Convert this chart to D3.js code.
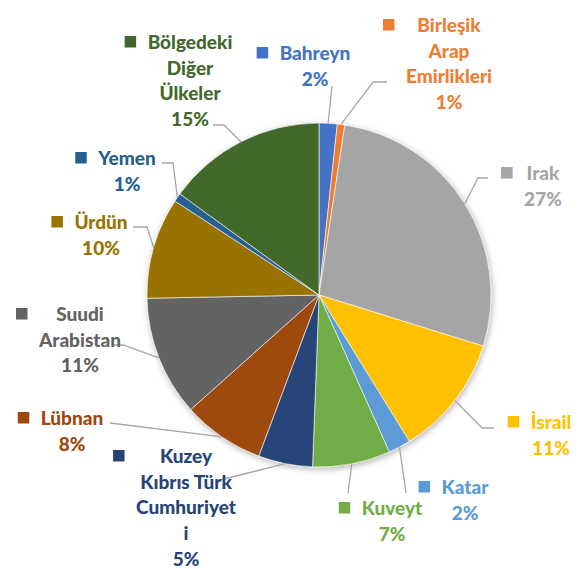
<!DOCTYPE html>
<html>
<head>
<meta charset="utf-8">
<script src="https://cdn.jsdelivr.net/npm/d3@7"></script>
<style>
  body { margin: 0; background: #fff; }
  text { font-family: Lato, "Open Sans", sans-serif; font-weight: 900; }
</style>
</head>
<body>
<div id="chart"></div>
<script>
// slices, clockwise from 12 o'clock
const categories = ['Bahreyn', 'Birleşik Arap Emirlikleri', 'Irak', 'İsrail', 'Katar', 'Kuveyt',
  'Kuzey Kıbrıs Türk Cumhuriyeti', 'Lübnan', 'Suudi Arabistan', 'Ürdün', 'Yemen', 'Bölgedeki Diğer Ülkeler'];
const shares = [1.7, 0.7, 27.4, 11.4, 2.1, 7.3, 5.1, 7.7, 11.3, 9.5, 0.8, 15.0];
const labelLines = [
  ['Bahreyn'], ['Birleşik', 'Arap', 'Emirlikleri'], ['Irak'], ['İsrail'], ['Katar'], ['Kuveyt'],
  ['Kuzey', 'Kıbrıs Türk', 'Cumhuriyet', 'i'], ['Lübnan'], ['Suudi', 'Arabistan'], ['Ürdün'],
  ['Yemen'], ['Bölgedeki', 'Diğer', 'Ülkeler']
];
const colors = ['#4472C4', '#ED7D31', '#A5A5A5', '#FFC000', '#5B9BD5', '#70AD47',
  '#264478', '#9E480E', '#636363', '#997300', '#255E91', '#43682B'];

// layout (label centre of first line, leader line bends)
const labelAt = [[315, 53], [449, 25], [543, 173], [551, 422], [465, 487], [392, 508],
  [186, 456], [72, 418], [80, 314], [101, 222], [127, 158], [190, 42]];
const leaderPts = [
  [[332, 86]], [[373, 82], [387, 82]], [[478, 178], [488, 178]], [[482, 428], [494, 428]],
  [[406, 493]], [[348, 493]], [[220, 480]], [[110, 423]], [[123, 345], [113, 345]],
  [[147, 227], [133, 227]], [[173, 163], [162, 163]], [[224, 125], [213, 125]]
];

const width = 582;
const height = 569;
const cx = 319;
const cy = 295;
const radius = 172;
const lineH = 25.7;

const data = categories.map((c, i) => ({
  name: c, value: shares[i], color: colors[i], lines: labelLines[i], at: labelAt[i], pts: leaderPts[i]
}));

const svg = d3.select('#chart').append('svg')
  .attr('width', width)
  .attr('height', height);

const defs = svg.append('defs');
const shadow = defs.append('filter').attr('id', 'shadow')
  .attr('x', '-20%').attr('y', '-20%').attr('width', '140%').attr('height', '140%');
shadow.append('feDropShadow')
  .attr('dx', 1).attr('dy', 2).attr('stdDeviation', 3)
  .attr('flood-color', '#000').attr('flood-opacity', 0.3);

const pie = d3.pie().sort(null).value((d) => d.value);
const arc = d3.arc().innerRadius(0).outerRadius(radius);
const arcs = pie(data);

const g = svg.append('g').attr('transform', `translate(${cx},${cy})`);

g.append('g').attr('filter', 'url(#shadow)')
  .selectAll('path')
  .data(arcs)
  .enter()
  .append('path')
  .attr('d', arc)
  .attr('fill', (d) => d.data.color)
  .attr('stroke', '#fff')
  .attr('stroke-width', 0.6);

// leader lines
const line = d3.line();
svg.append('g').selectAll('path')
  .data(arcs)
  .enter()
  .append('path')
  .attr('d', (d) => {
    const a = (d.startAngle + d.endAngle) / 2;
    const start = [cx + radius * Math.sin(a), cy - radius * Math.cos(a)];
    return line([start, ...d.data.pts]);
  })
  .attr('fill', 'none')
  .attr('stroke', '#A6A6A6')
  .attr('stroke-width', 1.3);

// labels
const labels = svg.append('g').selectAll('g')
  .data(arcs)
  .enter()
  .append('g');

labels.each(function (d) {
  const lg = d3.select(this);
  const rows = [...d.data.lines, `${Math.round(d.data.value)}%`];
  const [x, y] = d.data.at;
  let widest = 0;
  rows.forEach((t, i) => {
    const txt = lg.append('text')
      .attr('x', x)
      .attr('y', y + i * lineH)
      .attr('dy', '0.36em')
      .attr('text-anchor', 'middle')
      .attr('font-size', 19)
      .attr('fill', d.data.color)
      .text(t);
    widest = Math.max(widest, txt.node().getComputedTextLength());
  });
  lg.append('rect')
    .attr('x', x - widest / 2 - 23)
    .attr('y', y - 6)
    .attr('width', 11.5)
    .attr('height', 11.5)
    .attr('fill', d.data.color);
});
</script>
</body>
</html>
